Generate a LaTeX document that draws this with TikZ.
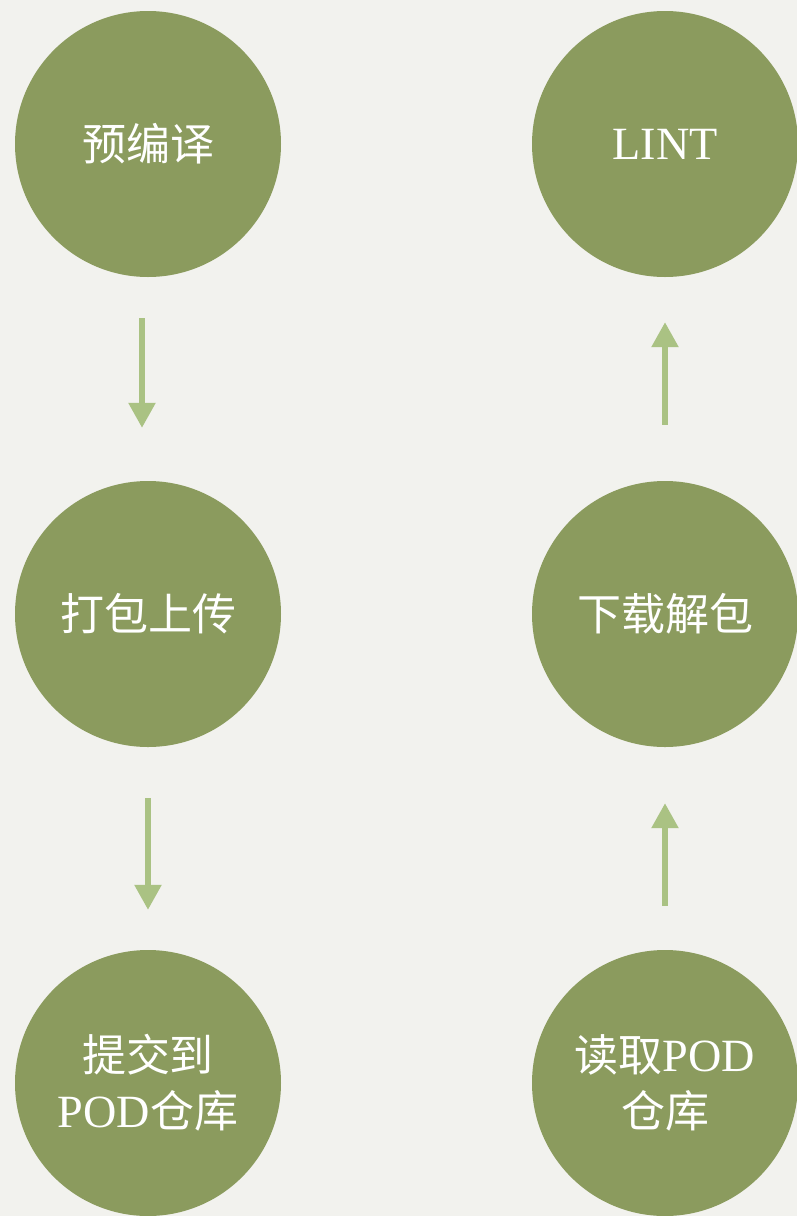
\documentclass[tikz,border=0pt]{standalone}
\usepackage{fontspec}
\setmainfont[Scale=1.05]{Liberation Serif}
\newfontfamily\cjk{Noto Sans CJK SC}
\usetikzlibrary{arrows.meta}
\definecolor{bgc}{HTML}{F2F2EE}
\definecolor{olive}{HTML}{8B9B5E}
\definecolor{arrc}{HTML}{AAC283}
\tikzset{
  stage/.style={circle, fill=olive, draw=none, minimum size=266pt, inner sep=0pt,
    text=white, align=center, font=\fontsize{44}{56}\selectfont},
  flow/.style={draw=arrc, line width=5.5pt, -{Triangle[width=26pt,length=25pt]}}
}
\begin{document}
\begin{tikzpicture}[x=1pt,y=-1pt]
\fill[bgc] (0,0) rectangle (797,1216);
\useasboundingbox (0,0) rectangle (797,1216);
\node[stage] (a) at (148,144) {\cjk 预编译};
\node[stage] (b) at (148,614) {\cjk 打包上传};
\node[stage] (c) at (148,1083) {{\cjk 提交到}\\POD{\cjk 仓库}};
\node[stage] (d) at (665,1083) {{\cjk 读取}POD\\{\cjk 仓库}};
\node[stage] (e) at (665,614) {\cjk 下载解包};
\node[stage] (f) at (665,144) {LINT};
\draw[flow] ([xshift=-6pt,yshift=-41pt]a.south) -- ([xshift=-6pt,yshift=53pt]b.north);
\draw[flow] ([yshift=-51pt]b.south) -- ([yshift=40pt]c.north);
\draw[flow] ([yshift=44pt]d.north) -- ([yshift=-56pt]e.south);
\draw[flow] ([yshift=56pt]e.north) -- ([yshift=-45pt]f.south);
\end{tikzpicture}
\end{document}
